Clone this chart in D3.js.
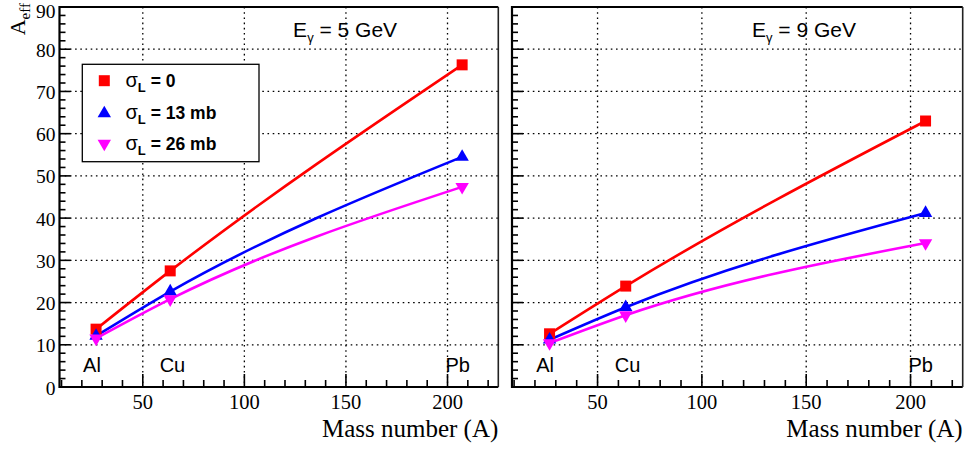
<!DOCTYPE html>
<html>
<head>
<meta charset="utf-8">
<script src="https://cdn.jsdelivr.net/npm/d3@7/dist/d3.min.js"></script>
<style>
  html, body { margin: 0; padding: 0; background: #fff; }
  svg { display: block; }
</style>
</head>
<body>
<svg id="chart" width="968" height="450"></svg>
<script>
// Target nuclei and their mass numbers
const elements = ["Al", "Cu", "Pb"];
const massNumbers = [27, 63.5, 207.2];
// Where the element names sit, in (A, Aeff) units
const elementLabelA = [20.6, 58.3, 199];
const elementLabelY = 3.6;

// Effective mass number, E_gamma = 5 GeV
const aeff5_sigma0 = [13.7, 27.5, 76.3];
const aeff5_sigma13 = [12.1, 22.6, 54.5];
const aeff5_sigma26 = [11.5, 20.8, 47.4];

// Effective mass number, E_gamma = 9 GeV
const aeff9_sigma0 = [12.6, 23.9, 63.0];
const aeff9_sigma13 = [11.2, 18.9, 41.2];
const aeff9_sigma26 = [10.4, 17.0, 34.1];

const legendNames = ["0", "13 mb", "26 mb"];
const seriesColors = ["#ff0000", "#0000ff", "#ff00ff"];
const panelEnergies = ["5", "9"];

const xTicksMajor = [50, 100, 150, 200];
const yTicksMajor = [0, 10, 20, 30, 40, 50, 60, 70, 80, 90];

const svg = d3.select("#chart");
const serif = "'Liberation Serif', 'Times New Roman', serif";
const sans = "'Liberation Sans', Arial, Helvetica, sans-serif";

const frameTop = 7, frameBottom = 387;
const panels = [
  { energy: panelEnergies[0], left: 59.5, right: 498.3, series: [aeff5_sigma0, aeff5_sigma13, aeff5_sigma26], yLabels: true, legend: true },
  { energy: panelEnergies[1], left: 512, right: 962.7, series: [aeff9_sigma0, aeff9_sigma13, aeff9_sigma26], yLabels: false, legend: false }
];

const y = d3.scaleLinear().domain([0, 90]).range([frameBottom, frameTop]);

function markerPath(i) {
  if (i === 0) return d3.symbol().type(d3.symbolSquare).size(121)();
  return d3.symbol().type(d3.symbolTriangle).size(78)();
}

panels.forEach(p => {
  const x = d3.scaleLinear().domain([9, 225]).range([p.left, p.right]);
  const g = svg.append("g");

  // dotted grid at the major ticks
  const grid = g.append("g").attr("stroke", "#000").attr("stroke-width", 1.3)
    .attr("stroke-dasharray", "1.6,3.6");
  yTicksMajor.filter(v => v > 0 && v < 90).forEach(v => {
    grid.append("line").attr("x1", p.left).attr("x2", p.right)
      .attr("y1", y(v)).attr("y2", y(v));
  });
  xTicksMajor.forEach(v => {
    grid.append("line").attr("x1", x(v)).attr("x2", x(v))
      .attr("y1", frameTop).attr("y2", frameBottom);
  });

  // ticks: y major every 10, minor every 2; x major every 50, minor every 10
  const ticks = g.append("g").attr("stroke", "#000").attr("stroke-width", 1.6);
  d3.range(0, 90.01, 2).forEach(v => {
    const len = (Math.round(v) % 10 === 0) ? 11 : 6;
    ticks.append("line").attr("x1", p.left).attr("x2", p.left + len)
      .attr("y1", y(v)).attr("y2", y(v));
  });
  d3.range(10, 225, 10).forEach(v => {
    const len = (v % 50 === 0) ? 13 : 7;
    ticks.append("line").attr("x1", x(v)).attr("x2", x(v))
      .attr("y1", frameBottom).attr("y2", frameBottom - len);
  });

  // smooth curves through the three nuclei
  const curve = d3.line().x(d => x(d[0])).y(d => y(d[1])).curve(d3.curveMonotoneX);
  p.series.forEach((vals, i) => {
    const pts = massNumbers.map((a, k) => [a, vals[k]]);
    g.append("path").attr("d", curve(pts))
      .attr("fill", "none").attr("stroke", seriesColors[i]).attr("stroke-width", 2.6);
  });

  // markers
  p.series.forEach((vals, i) => {
    massNumbers.forEach((a, k) => {
      g.append("path")
        .attr("d", markerPath(i))
        .attr("transform", `translate(${x(a)},${y(vals[k])})` + (i === 2 ? " rotate(180)" : ""))
        .attr("fill", seriesColors[i]);
    });
  });

  // frame
  g.append("line").attr("x1", p.left).attr("x2", p.left).attr("y1", frameTop - 1).attr("y2", frameBottom + 1)
    .attr("stroke", "#000").attr("stroke-width", 2.2);
  g.append("line").attr("x1", p.left).attr("x2", p.right).attr("y1", frameBottom).attr("y2", frameBottom)
    .attr("stroke", "#000").attr("stroke-width", 2.2);
  g.append("line").attr("x1", p.left).attr("x2", p.right).attr("y1", frameTop).attr("y2", frameTop)
    .attr("stroke", "#000").attr("stroke-width", 2);
  g.append("line").attr("x1", p.right).attr("x2", p.right).attr("y1", frameTop).attr("y2", frameBottom)
    .attr("stroke", "#222").attr("stroke-width", 1.6);

  // x tick labels
  xTicksMajor.forEach(v => {
    g.append("text").attr("x", x(v)).attr("y", 408.5).attr("text-anchor", "middle")
      .attr("font-family", serif).attr("font-size", 20.5).text(v);
  });

  // y tick labels (the topmost one is kept fully inside the canvas)
  if (p.yLabels) {
    yTicksMajor.forEach(v => {
      g.append("text").attr("x", p.left - 4).attr("y", Math.max(y(v) + 7.5, 17.5)).attr("text-anchor", "end")
        .attr("font-family", serif).attr("font-size", 19.5).text(v);
    });
  }

  // x axis title
  g.append("text").attr("x", p.right).attr("y", 437).attr("text-anchor", "end")
    .attr("font-family", serif).attr("font-size", 25).text("Mass number (A)");

  // element names
  elements.forEach((el, k) => {
    g.append("text").attr("x", x(elementLabelA[k])).attr("y", y(elementLabelY))
      .attr("font-family", sans).attr("font-size", 20).text(el);
  });

  // beam energy
  const title = g.append("text").attr("x", x(124)).attr("y", 37)
    .attr("font-family", sans).attr("font-size", 21);
  title.append("tspan").text("E");
  title.append("tspan").attr("font-size", 13).attr("dy", 5).text("γ");
  title.append("tspan").attr("dy", -5).text(` = ${p.energy} GeV`);

  // legend
  if (p.legend) {
    const lg = g.append("g");
    lg.append("rect").attr("x", 82.3).attr("y", 64.3).attr("width", 176.7).attr("height", 97.4)
      .attr("fill", "#fff").attr("stroke", "#000").attr("stroke-width", 1.3);
    const rowY = [80.7, 112.5, 143.5];
    legendNames.forEach((name, i) => {
      lg.append("path").attr("d", markerPath(i))
        .attr("transform", `translate(104.3,${rowY[i] + (i === 1 ? 1 : 0)})` + (i === 2 ? " rotate(180)" : ""))
        .attr("fill", seriesColors[i]);
      const t = lg.append("text").attr("x", 125.5).attr("y", rowY[i] + 6.5)
        .attr("font-family", sans).attr("font-weight", "bold").attr("font-size", 17.5);
      t.append("tspan").attr("font-size", 20).attr("font-weight", "normal").text("σ");
      t.append("tspan").attr("font-size", 13).attr("dy", 5).text("L");
      t.append("tspan").attr("dy", -5).text(` = ${name}`);
    });
  }
});

// y axis title
const yt = svg.append("text").attr("transform", "translate(25,3) rotate(-90)")
  .attr("text-anchor", "end").attr("font-family", serif).attr("font-size", 22);
yt.append("tspan").text("A");
yt.append("tspan").attr("font-size", 15).attr("dy", 5).text("eff");
</script>
</body>
</html>
